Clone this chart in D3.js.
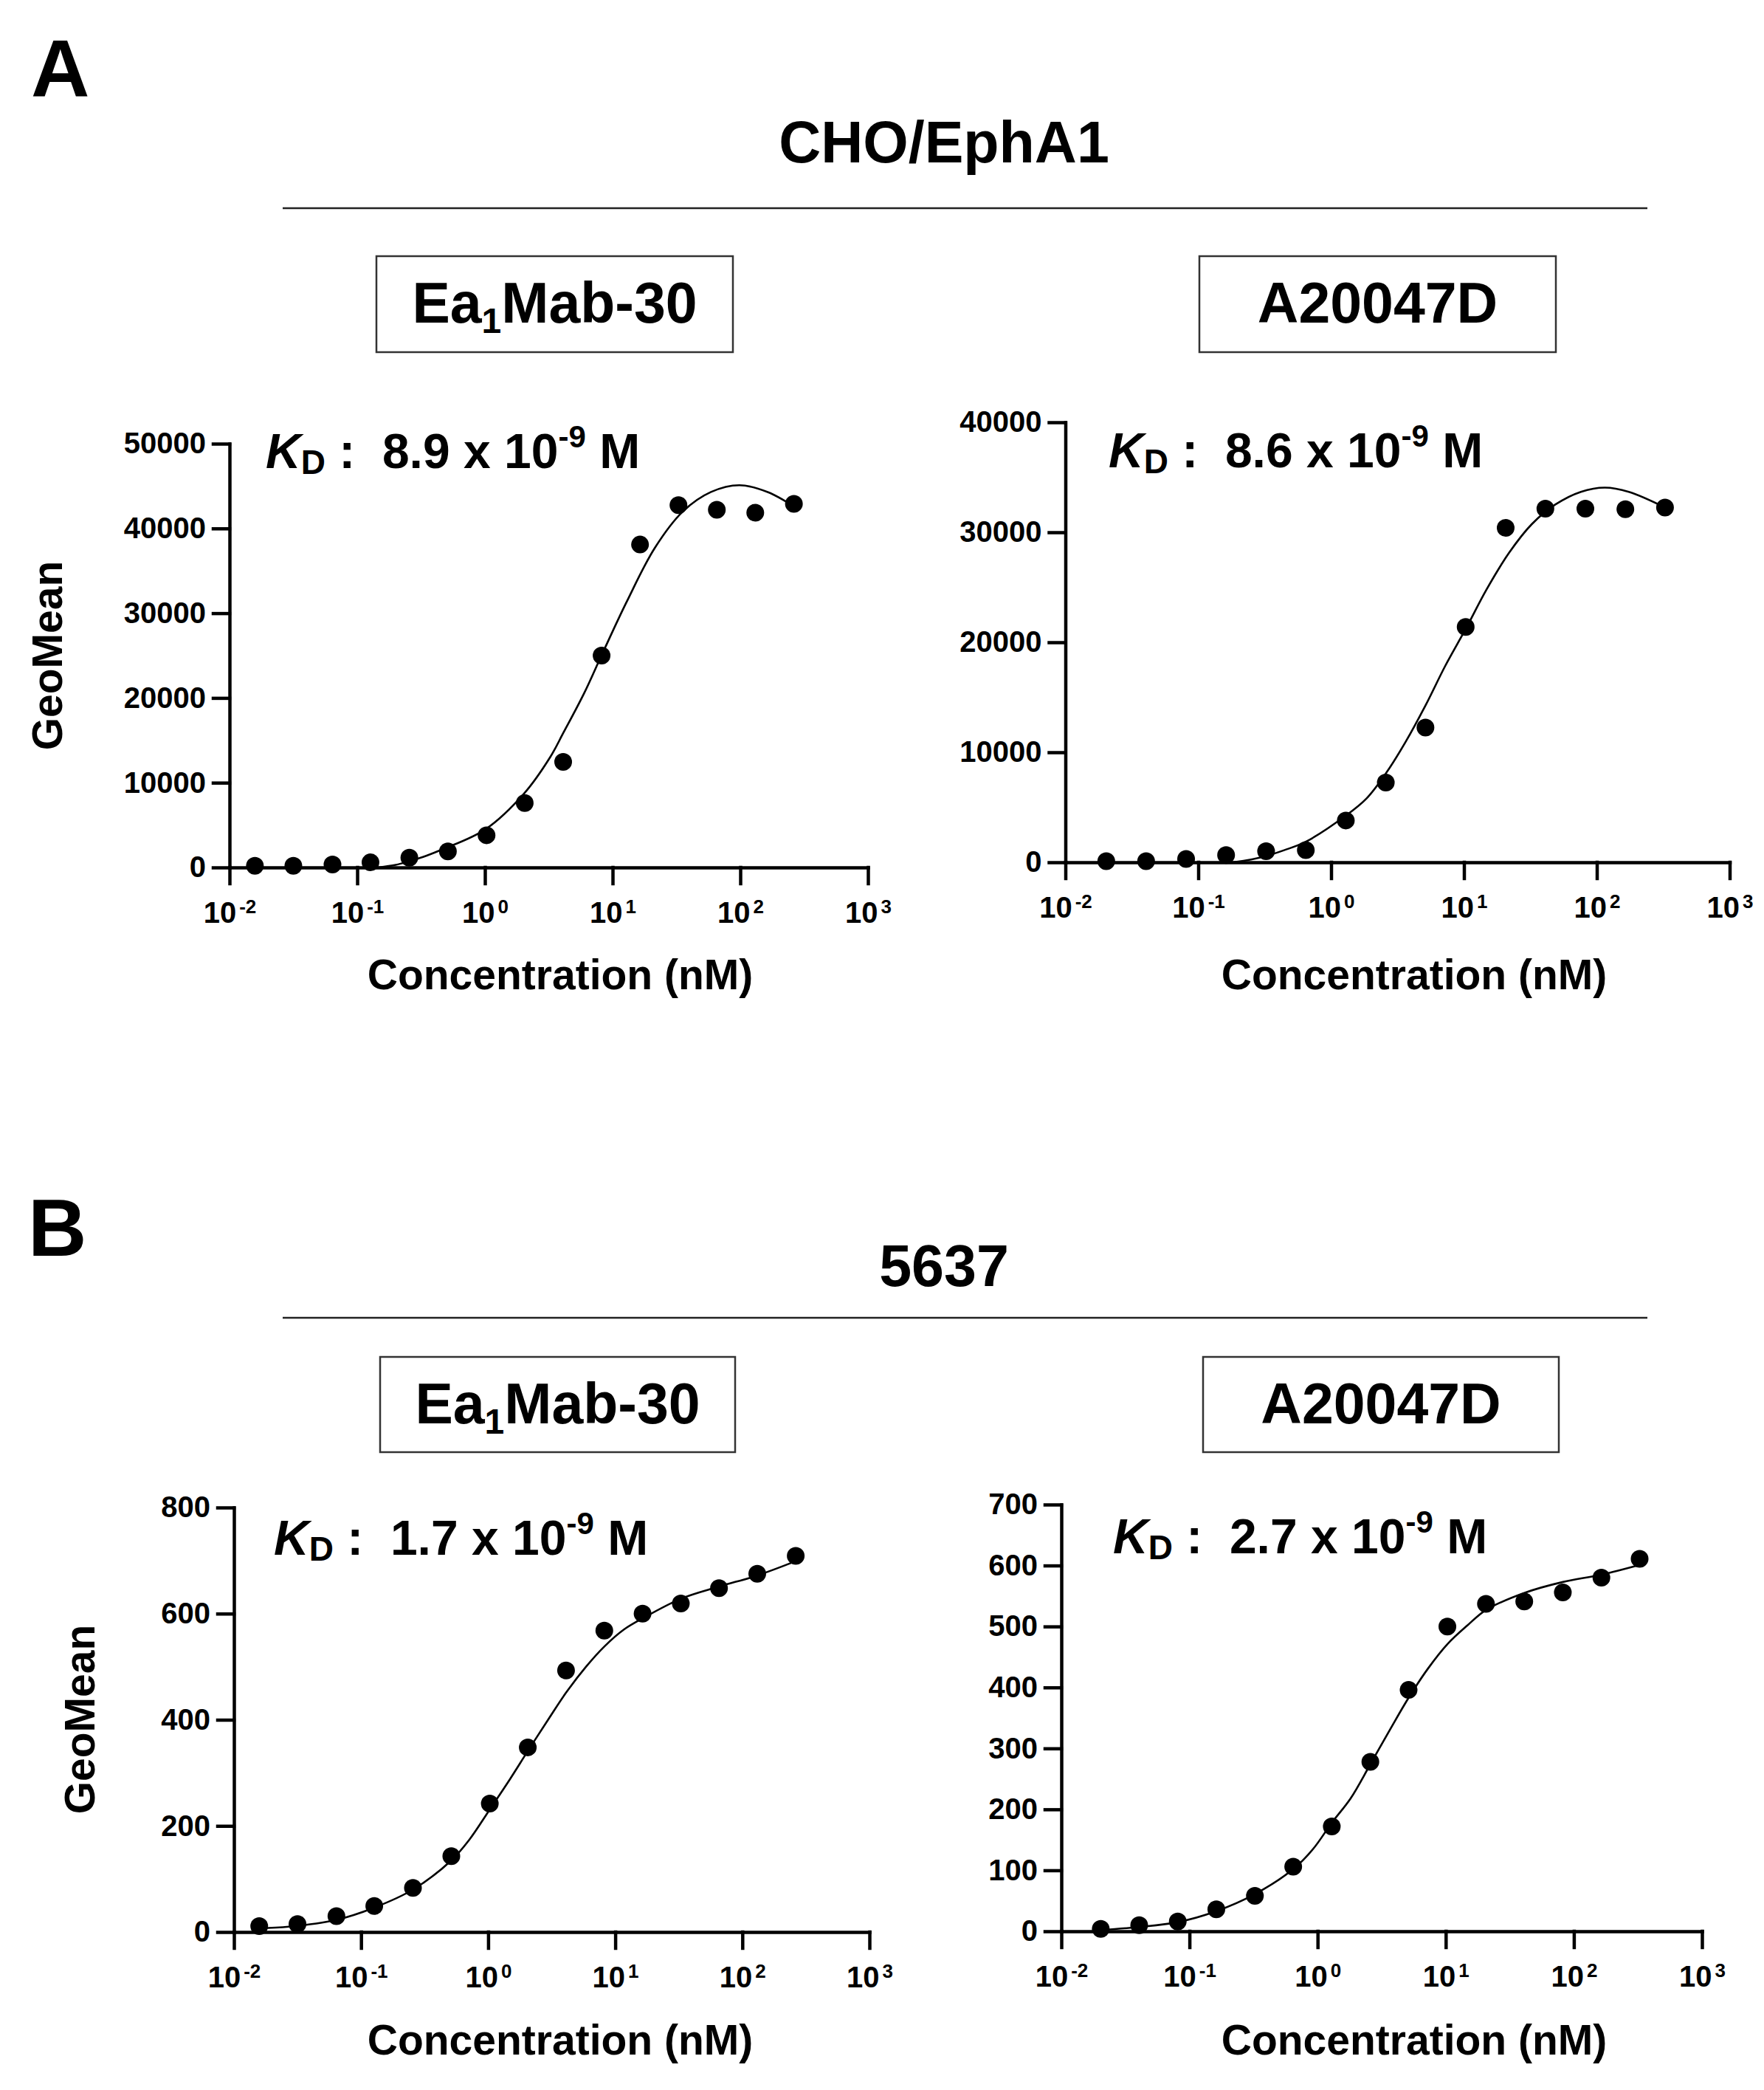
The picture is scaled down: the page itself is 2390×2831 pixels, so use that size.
<!DOCTYPE html>
<html>
<head>
<meta charset="utf-8">
<script src="https://cdn.jsdelivr.net/npm/d3@7"></script>
<style>
  body { margin: 0; background: #fff; }
  svg text { font-family: "Liberation Sans", Arial, Helvetica, sans-serif; font-weight: bold; fill: #000; }
</style>
</head>
<body>
<div class="chart"></div>
<script>
const concEa1 = [0.0158, 0.0316, 0.064, 0.127, 0.256, 0.513, 1.03, 2.05, 4.1, 8.2, 16.4, 32.8, 65.5, 131, 263];
const concA20 = [0.0203, 0.0405, 0.081, 0.162, 0.324, 0.645, 1.29, 2.58, 5.13, 10.3, 20.6, 41, 82, 164, 326];

// GeoMean of each dot
const choEa1 = [200, 200, 350, 600, 1150, 1900, 3800, 7600, 12450, 25000, 38100, 42750, 42200, 41850, 42900];
const choA20 = [100, 100, 300, 650, 1000, 1100, 3800, 7250, 12250, 21400, 30400, 32150, 32150, 32100, 32250];
const c5637Ea1 = [11, 15, 30, 49, 83, 143, 242, 348, 493, 568, 600, 619, 648, 675, 709];
const c5637A20 = [4, 10, 16, 36, 58, 106, 172, 278, 396, 500, 537, 541, 556, 580, 611];

// fitted curves
const fitChoEa1X = [0.146, 0.2, 0.257, 0.35, 0.468, 1.01, 2.02, 3.24, 4.12, 5.96, 8.18, 12.85, 21.4, 35.5, 59, 98.4, 163.7, 263];
const fitChoEa1Y = [0, 300, 750, 1400, 2150, 4500, 8700, 13000, 15900, 20500, 25000, 31300, 37700, 42000, 44300, 45100, 44300, 42600];
const fitChoA20X = [0.18, 0.25, 0.32, 0.443, 0.641, 1.29, 1.84, 2.59, 3.63, 5.14, 7.24, 10.3, 14.8, 21.9, 32.3, 48.7, 75.9, 115, 174, 326];
const fitChoA20Y = [0, 250, 550, 1100, 1850, 4240, 5780, 8100, 10930, 14270, 17870, 21210, 24810, 28150, 30720, 32520, 33680, 34060, 33680, 32260];
const fit5637Ea1X = [0.0158, 0.027, 0.064, 0.127, 0.256, 0.513, 0.711, 1.03, 1.475, 2.05, 2.98, 4.1, 5.89, 8.2, 11.7, 16.4, 32.8, 65.5, 131, 263];
const fit5637Ea1Y = [7, 10, 23, 46, 80, 135, 174, 231, 287, 341, 401, 451, 500, 538, 570, 591, 628, 651, 672, 699];
const fit5637A20X = [0.0203, 0.0405, 0.081, 0.162, 0.324, 0.645, 0.922, 1.29, 1.81, 2.58, 3.7, 5.13, 7.27, 10.3, 14.8, 20.6, 41, 82, 164, 326];
const fit5637A20Y = [2, 7, 15, 33, 61, 102, 135, 178, 218, 274, 332, 383, 431, 471, 502, 527, 555, 573, 585, 601];

const yTicksChoEa1 = [0, 10000, 20000, 30000, 40000, 50000];
const yTicksChoA20 = [0, 10000, 20000, 30000, 40000];
const yTicks5637Ea1 = [0, 200, 400, 600, 800];
const yTicks5637A20 = [0, 100, 200, 300, 400, 500, 600, 700];
const xTickExponents = [-2, -1, 0, 1, 2, 3];

const kdValues = ["8.9", "8.6", "1.7", "2.7"];
const antibodyNames = [["Ea", "1", "Mab-30"], ["A20047D"]];
const cellLines = ["CHO/EphA1", "5637"];
const sectionLetters = ["A", "B"];

const panels = [
  { x: concEa1, y: choEa1, fx: fitChoEa1X, fy: fitChoEa1Y, ticks: yTicksChoEa1, kd: kdValues[0], name: antibodyNames[0] },
  { x: concA20, y: choA20, fx: fitChoA20X, fy: fitChoA20Y, ticks: yTicksChoA20, kd: kdValues[1], name: antibodyNames[1] },
  { x: concEa1, y: c5637Ea1, fx: fit5637Ea1X, fy: fit5637Ea1Y, ticks: yTicks5637Ea1, kd: kdValues[2], name: antibodyNames[0] },
  { x: concA20, y: c5637A20, fx: fit5637A20X, fy: fit5637A20Y, ticks: yTicks5637A20, kd: kdValues[3], name: antibodyNames[1] }
];

// where each panel sits on the page
const layout = [
  { left: 311, right: 1176, top: 601, bottom: 1175, box: [510, 347, 483, 130], kd: [360, 634], xTitle: [759, 1340], yTitle: [84, 888] },
  { left: 1443.5, right: 2343.5, top: 572, bottom: 1168, box: [1625, 347, 483, 130], kd: [1502, 633], xTitle: [1916, 1340], yTitle: null },
  { left: 317, right: 1178, top: 2042, bottom: 2617, box: [515, 1838, 481, 129], kd: [371, 2106], xTitle: [759, 2783], yTitle: [128, 2329] },
  { left: 1438, right: 2306, top: 2038, bottom: 2616, box: [1630, 1838, 482, 129], kd: [1508, 2104], xTitle: [1916, 2783], yTitle: null }
];
const sections = [
  { letter: [42, 130], title: [1279, 220], rule: 282 },
  { letter: [38, 1701], title: [1279, 1742], rule: 1785 }
];

const width = 2390;
const height = 2831;

const svg = d3.select(".chart").append("svg")
  .attr("width", width)
  .attr("height", height);

svg.append("rect")
  .attr("width", width)
  .attr("height", height)
  .attr("fill", "#fff");

// section headers
sections.forEach((s, i) => {
  svg.append("text")
    .attr("x", s.letter[0])
    .attr("y", s.letter[1])
    .style("font-size", "110px")
    .text(sectionLetters[i]);

  svg.append("text")
    .attr("x", s.title[0])
    .attr("y", s.title[1])
    .attr("text-anchor", "middle")
    .style("font-size", "79px")
    .text(cellLines[i]);

  svg.append("line")
    .attr("x1", 383)
    .attr("x2", 2232)
    .attr("y1", s.rule)
    .attr("y2", s.rule)
    .attr("stroke", "#222")
    .attr("stroke-width", 2.5);
});

panels.forEach((p, i) => {
  const L = layout[i];

  const x = d3.scaleLog()
    .domain([1e-2, 1e3])
    .range([L.left, L.right]);

  const y = d3.scaleLinear()
    .domain([0, p.ticks[p.ticks.length - 1]])
    .range([L.bottom, L.top]);

  // antibody name box
  const bx = L.box;
  svg.append("rect")
    .attr("x", bx[0])
    .attr("y", bx[1])
    .attr("width", bx[2])
    .attr("height", bx[3])
    .attr("fill", "none")
    .attr("stroke", "#333")
    .attr("stroke-width", 2.5);

  const nameText = svg.append("text")
    .attr("x", bx[0] + bx[2] / 2)
    .attr("y", bx[1] + bx[3] / 2 + 25)
    .attr("text-anchor", "middle")
    .style("font-size", "77px");
  nameText.append("tspan").text(p.name[0]);
  if (p.name.length > 1) {
    nameText.append("tspan").attr("dy", 14).style("font-size", "48px").text(p.name[1]);
    nameText.append("tspan").attr("dy", -14).text(p.name[2]);
  }

  // axes
  const xAxis = d3.axisBottom(x)
    .tickValues(xTickExponents.map(e => Math.pow(10, e)))
    .tickSize(22)
    .tickSizeOuter(0);

  const yAxis = d3.axisLeft(y)
    .tickValues(p.ticks)
    .tickSize(22)
    .tickPadding(10)
    .tickSizeOuter(0)
    .tickFormat(d3.format("d"));

  const gx = svg.append("g")
    .attr("class", "x axis")
    .attr("transform", `translate(0,${L.bottom})`)
    .call(xAxis);

  const gy = svg.append("g")
    .attr("class", "y axis")
    .attr("transform", `translate(${L.left},0)`)
    .call(yAxis);

  [gx, gy].forEach(g => {
    g.attr("font-family", null).attr("font-size", null);
    g.selectAll("path, line")
      .attr("stroke", "#000")
      .attr("stroke-width", 4.5)
      .attr("stroke-linecap", "square");
  });

  gy.selectAll("text").style("font-size", "40px");

  gx.selectAll(".tick text").each(function (d) {
    const t = d3.select(this)
      .text(null)
      .attr("y", 75)
      .attr("dy", null)
      .style("font-size", "40px");
    t.append("tspan").text("10");
    t.append("tspan")
      .attr("dx", 4)
      .attr("dy", -13)
      .style("font-size", "26px")
      .text(Math.round(Math.log10(d)));
  });

  // fitted curve
  const fit = p.fx.map((v, k) => [v, p.fy[k]]);
  svg.append("path")
    .datum(fit)
    .attr("fill", "none")
    .attr("stroke", "#000")
    .attr("stroke-width", 2.6)
    .attr("d", d3.line()
      .x(d => x(d[0]))
      .y(d => y(d[1]))
      .curve(d3.curveCatmullRom.alpha(0.5)));

  // data dots
  svg.append("g")
    .selectAll("circle")
    .data(p.x.map((v, k) => [v, p.y[k]]))
    .join("circle")
    .attr("cx", d => x(d[0]))
    .attr("cy", d => y(d[1]))
    .attr("r", 12)
    .attr("fill", "#000");

  // K_D annotation
  const kd = svg.append("text")
    .attr("x", L.kd[0])
    .attr("y", L.kd[1])
    .attr("xml:space", "preserve")
    .style("white-space", "pre")
    .style("font-size", "66px");
  kd.append("tspan").style("font-style", "italic").text("K");
  kd.append("tspan").attr("dy", 8).style("font-size", "46px").text("D");
  kd.append("tspan").attr("dy", -8).text(` :  ${p.kd} x 10`);
  kd.append("tspan").attr("dy", -28).style("font-size", "42px").text("-9");
  kd.append("tspan").attr("dy", 28).text(" M");

  // axis titles
  svg.append("text")
    .attr("x", L.xTitle[0])
    .attr("y", L.xTitle[1])
    .attr("text-anchor", "middle")
    .style("font-size", "57px")
    .text("Concentration (nM)");

  if (L.yTitle) {
    svg.append("text")
      .attr("transform", `translate(${L.yTitle[0]},${L.yTitle[1]}) rotate(-90)`)
      .attr("text-anchor", "middle")
      .style("font-size", "57px")
      .text("GeoMean");
  }
});
</script>
</body>
</html>
